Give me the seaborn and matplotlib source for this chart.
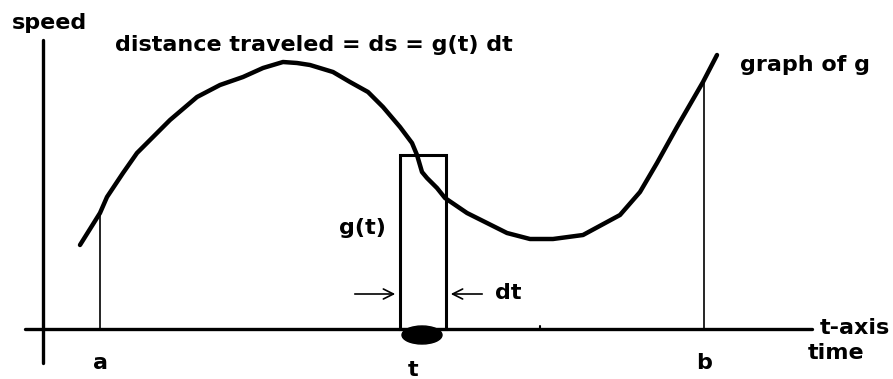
import matplotlib
matplotlib.use("Agg")
import matplotlib.pyplot as plt
import seaborn as sns
import pandas as pd
from matplotlib.patches import Ellipse, Rectangle

# 곡선 g(t) 의 값 (그림에서 읽은 값, 픽셀 단위 좌표계)
t_vals = [80, 100, 107, 123, 137, 157, 170, 197, 220, 243, 263, 283, 297, 310,
          333, 350, 368, 383, 400, 412, 417, 422, 427, 437, 445, 467, 507, 530,
          553, 583, 620, 640, 657, 677, 703, 717]
g_vals = [134, 166, 182, 206, 226, 246, 259, 282, 294, 302, 311, 317, 316, 314,
          307, 297, 287, 272, 252, 236, 224, 207, 201, 191, 181, 166, 146, 140,
          140, 144, 164, 187, 216, 252, 297, 324]

# 축과 주요 지점
axis_y = 50
axis_x = 43
a_t, a_g = 100, 166
b_t, b_g = 704, 296
t_left, t_right, box_top = 400, 446, 224
t_mid = 422

sns.set_theme(style="white")
plt.rcParams['font.family'] = ['DejaVu Sans']

fig = plt.figure(figsize=(8.93, 3.79), dpi=100)
ax = fig.add_axes([0, 0, 1, 1])
ax.set_xlim(0, 893)
ax.set_ylim(0, 379)
ax.axis("off")

df = pd.DataFrame({"t": t_vals, "g": g_vals})
sns.lineplot(data=df, x="t", y="g", sort=False, color="black", lw=3.2, ax=ax)

# 축
ax.plot([25, 812], [axis_y, axis_y], color="black", lw=2.4)
ax.plot([axis_x, axis_x], [16, 339], color="black", lw=2.4)
ax.plot([540, 540], [axis_y, axis_y + 3], color="black", lw=1.5)

# a, b 수직선
ax.plot([a_t, a_t], [axis_y, a_g], color="black", lw=1.2)
ax.plot([b_t, b_t], [axis_y, b_g], color="black", lw=1.2)

# 직사각형 (g(t) dt)
ax.add_patch(Rectangle((t_left, axis_y), t_right - t_left, box_top - axis_y,
                       fill=False, ec="black", lw=2.2))
ax.add_patch(Ellipse((t_mid, 44), 40, 18, color="black"))

# 화살표
ax.annotate("", xy=(t_left - 2, 85), xytext=(352, 85),
            arrowprops=dict(arrowstyle="->", color="black", lw=1.2, mutation_scale=18))
ax.annotate("", xy=(t_right + 2, 85), xytext=(485, 85),
            arrowprops=dict(arrowstyle="->", color="black", lw=1.2, mutation_scale=18))

# 텍스트
fs = 16
kw = dict(fontsize=fs, fontweight="bold", color="black", va="center")
ax.text(12, 356, "speed", ha="left", **kw)
ax.text(115, 334, "distance traveled = ds = g(t) dt", ha="left", **kw)
ax.text(740, 314, "graph of g", ha="left", **kw)
ax.text(362, 151, "g(t)", ha="center", **kw)
ax.text(495, 86, "dt", ha="left", **kw)
ax.text(a_t, 16, "a", ha="center", **kw)
ax.text(413, 9, "t", ha="center", **kw)
ax.text(b_t, 16, "b", ha="center", **kw)
ax.text(820, 51, "t-axis", ha="left", **kw)
ax.text(808, 26, "time", ha="left", **kw)

fig.savefig("out.png", dpi=100, facecolor="white")
